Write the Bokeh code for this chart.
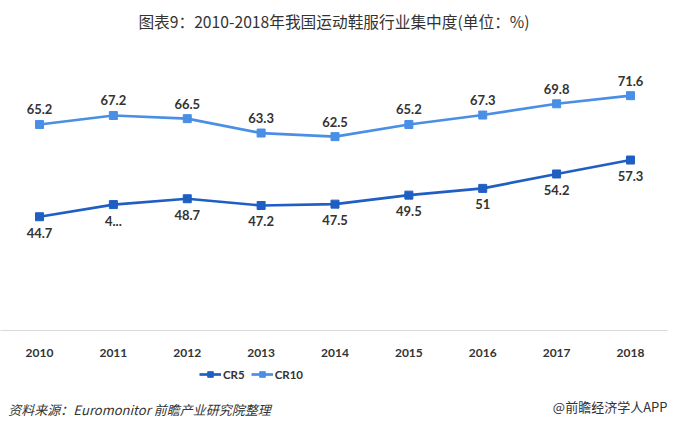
from bokeh.plotting import figure
from bokeh.layouts import column
from bokeh.models import (Range1d, FixedTicker, Label, Legend, LegendItem,
                          ColumnDataSource, LabelSet)
from bokeh.core.properties import value
from bokeh.embed import file_html
from bokeh.resources import INLINE

years = [2010, 2011, 2012, 2013, 2014, 2015, 2016, 2017, 2018]
cr5 = [44.7, 47.4, 48.7, 47.2, 47.5, 49.5, 51.0, 54.2, 57.3]
cr10 = [65.2, 67.2, 66.5, 63.3, 62.5, 65.2, 67.3, 69.8, 71.6]
cr5_labels = ["44.7", "4...", "48.7", "47.2", "47.5", "49.5", "51", "54.2", "57.3"]
cr10_labels = ["65.2", "67.2", "66.5", "63.3", "62.5", "65.2", "67.3", "69.8", "71.6"]
tick_labels = {y: str(y) for y in years}
series_names = ["CR5", "CR10"]

title_text = "图表9：2010-2018年我国运动鞋服行业集中度(单位：%)"
source_text = "资料来源：Euromonitor 前瞻产业研究院整理"
brand_text = "@前瞻经济学人APP"

C5 = "#1F5FC4"
C10 = "#4A8FE6"
TXT = "#333333"
CJK = "Noto Sans CJK SC"
W = 680


def blank(h):
    f = figure(width=W, height=h, output_backend="svg", toolbar_location=None,
               x_range=Range1d(0, W), y_range=Range1d(0, h),
               x_axis_type=None, y_axis_type=None,
               min_border_left=0, min_border_right=0, min_border_top=0,
               min_border_bottom=0)
    f.outline_line_color = None
    f.xgrid.visible = False
    f.ygrid.visible = False
    f.background_fill_color = "white"
    f.border_fill_color = "white"
    return f


# ---- title strip
TH = 59
pt = blank(TH)
pt.add_layout(Label(x=340, y=TH - 21, text=title_text, text_align="center",
                    text_baseline="middle", text_font=CJK,
                    text_font_size="15.7px", text_color=TXT))

# ---- main chart
FH = 271
MB = 32
p = figure(width=W, height=FH + MB, output_backend="svg", toolbar_location=None,
           x_range=Range1d(2009.472, 2018.501), y_range=Range1d(19.42, 79.64),
           min_border_left=0, min_border_right=13, min_border_top=0,
           min_border_bottom=MB)
p.outline_line_color = None
p.background_fill_color = "white"
p.border_fill_color = "white"
p.xgrid.visible = False
p.ygrid.visible = False
p.yaxis.visible = False

ax = p.xaxis[0]
ax.ticker = FixedTicker(ticks=years)
ax.major_label_overrides = tick_labels
ax.axis_line_color = "#D9D9D9"
ax.axis_line_width = 1
ax.major_tick_line_color = None
ax.minor_tick_line_color = None
ax.major_label_standoff = 12
ax.major_label_text_font = "Lato"
ax.major_label_text_font_style = "bold"
ax.major_label_text_font_size = "12px"
ax.major_label_text_color = TXT

src = ColumnDataSource(dict(x=years, cr5=cr5, cr10=cr10,
                            l5=cr5_labels, l10=cr10_labels))

p.line("x", "cr10", source=src, line_color=C10, line_width=2.7)
p.scatter("x", "cr10", source=src, marker="square", size=8,
          fill_color=C10, line_color=C10)
p.line("x", "cr5", source=src, line_color=C5, line_width=2.7)
p.scatter("x", "cr5", source=src, marker="square", size=8,
          fill_color=C5, line_color=C5)

p.add_layout(LabelSet(x="x", y="cr10", text="l10", source=src, y_offset=15,
                      text_align="center", text_baseline="middle",
                      text_font=value("Lato"), text_font_style="bold",
                      text_font_size="13px", text_color=TXT))
p.add_layout(LabelSet(x="x", y="cr5", text="l5", source=src, y_offset=-16,
                      text_align="center", text_baseline="middle",
                      text_font=value("Lato"), text_font_style="bold",
                      text_font_size="13px", text_color=TXT))

# ---- footer: legend + source
FT = 61
pf = blank(FT)
# legend swatches (drawn off-canvas; only their legend glyphs are seen)
off = dict(x=[-100, -90], y=[-100, -100])
d5l = pf.line(line_color=C5, line_width=2.7, **off)
d5m = pf.scatter(marker="square", size=7, fill_color=C5, line_color=C5, **off)
d10l = pf.line(line_color=C10, line_width=2.7, **off)
d10m = pf.scatter(marker="square", size=7, fill_color=C10, line_color=C10, **off)
legend = Legend(items=[LegendItem(label=series_names[0], renderers=[d5l, d5m]),
                       LegendItem(label=series_names[1], renderers=[d10l, d10m])],
                orientation="horizontal", location=(199, 42),
                border_line_color=None, background_fill_alpha=0,
                glyph_width=22, glyph_height=14, label_standoff=2,
                spacing=6, padding=2, margin=0,
                label_text_font="Lato", label_text_font_style="bold",
                label_text_font_size="11.5px", label_text_color=TXT)
pf.add_layout(legend)
pf.add_layout(Label(x=8, y=14, text=source_text, text_align="left",
                    text_baseline="middle", text_font=CJK,
                    text_font_style="italic", text_font_size="13px",
                    text_color=TXT))
pf.add_layout(Label(x=W, y=17, text=brand_text, text_align="right",
                    text_baseline="middle", text_font=CJK,
                    text_font_size="13px", text_color=TXT))

layout = column(pt, p, pf, spacing=0)
open("out.html", "w").write(file_html(layout, INLINE))
